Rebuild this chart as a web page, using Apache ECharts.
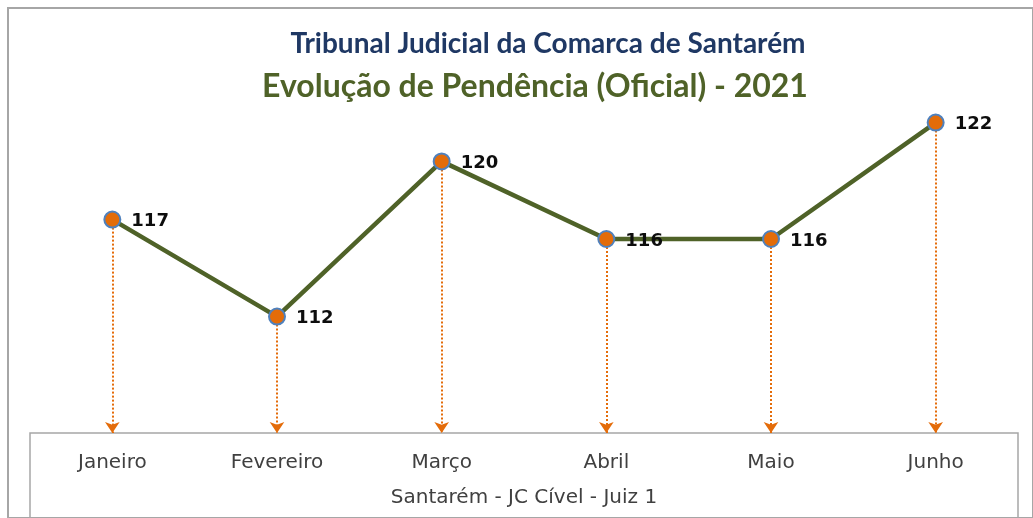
<!DOCTYPE html>
<html>
<head>
<meta charset="utf-8">
<title>Evolução de Pendência (Oficial) - 2021</title>
<script src="https://cdn.jsdelivr.net/npm/echarts@6/dist/echarts.min.js"></script>
<style>
  html, body { margin: 0; padding: 0; background: #fff; }
  #chart { width: 1033px; height: 518px; }
</style>
</head>
<body>
<div id="chart"></div>
<script>
// dados
const meses = ['Janeiro', 'Fevereiro', 'Março', 'Abril', 'Maio', 'Junho']
const pendencia = [117, 112, 120, 116, 116, 122]
const yMin = 106
const yMax = 126

const chart = echarts.init(document.getElementById('chart'))

// linhas pontilhadas de cada ponto até ao eixo
const guias = pendencia.map((v, i) => [
  { coord: [i, v] },
  { coord: [i, yMin] }
])

chart.setOption({
  animation: false,
  title: [
    {
      text: 'Tribunal Judicial da Comarca de Santarém',
      left: 543, top: 25, textAlign: 'center',
      textStyle: { color: '#1F3864', fontSize: 28, fontWeight: 'bold', fontFamily: 'Lato' }
    },
    {
      text: 'Evolução de Pendência (Oficial) - 2021',
      left: 530, top: 66, textAlign: 'center',
      textStyle: { color: '#4F6228', fontSize: 32, fontWeight: 'bold', fontFamily: 'Lato' }
    }
  ],
  grid: [
    { left: 30, right: 15, top: 45, bottom: 85 },
    // moldura exterior (só topo e lado esquerdo visíveis)
    { left: 8, width: 1100, top: 8, height: 600, show: true, borderColor: '#A6A6A6', borderWidth: 2 },
    // caixa do eixo
    { left: 30, right: 15, top: 433, bottom: -10, show: true, borderColor: '#A6A6A6', borderWidth: 1.5 }
  ],
  xAxis: [
    {
      type: 'category',
      data: meses,
      gridIndex: 0,
      axisLine: { show: false },
      axisTick: { show: false },
      axisLabel: { color: '#404040', fontSize: 20, fontFamily: 'DejaVu Sans', margin: 20 },
      name: 'Santarém - JC Cível - Juiz 1',
      nameLocation: 'middle',
      nameGap: 55,
      nameTextStyle: { color: '#404040', fontSize: 20, fontFamily: 'DejaVu Sans' }
    },
    { gridIndex: 1, show: false },
    { gridIndex: 2, show: false }
  ],
  yAxis: [
    { type: 'value', min: yMin, max: yMax, gridIndex: 0, show: false },
    { gridIndex: 1, show: false },
    { gridIndex: 2, show: false }
  ],
  series: [{
    type: 'line',
    data: pendencia,
    lineStyle: { color: '#4F6228', width: 4.5 },
    symbol: 'circle',
    symbolSize: 16,
    itemStyle: { color: '#E36C09', borderColor: '#4F81BD', borderWidth: 2 },
    label: {
      show: true,
      position: 'right',
      distance: 10,
      color: '#0D0D0D',
      fontSize: 18,
      fontWeight: 'bold',
      fontFamily: 'DejaVu Sans',
      offset: [0, 2]
    },
    markLine: {
      silent: true,
      symbol: ['none', 'arrow'],
      symbolSize: [11, 11],
      label: { show: false },
      lineStyle: { color: '#E46C0A', type: 'dotted', width: 2 },
      data: guias
    },
    z: 5
  }]
})
</script>
</body>
</html>
